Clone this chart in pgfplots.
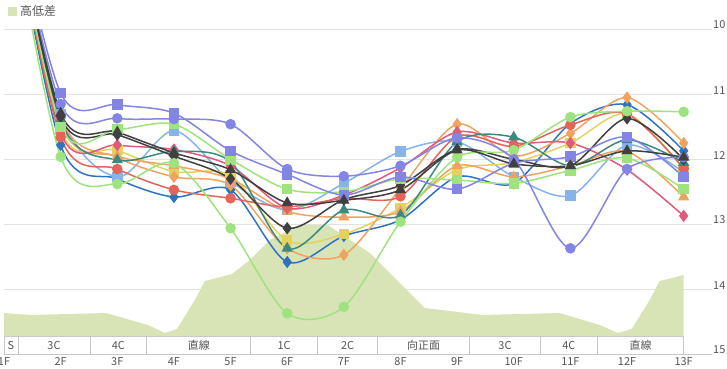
\documentclass[border=0pt]{standalone}
\usepackage{pgfplots}
\pgfplotsset{compat=1.18}
\usepackage{fontspec}
\setmainfont{Noto Sans CJK JP}
\usetikzlibrary{calc}
\definecolor{cPur}{HTML}{8285E3}
\definecolor{cBlu}{HTML}{2E73C2}
\definecolor{cLbl}{HTML}{85B3EA}
\definecolor{cGrn}{HTML}{9EE37D}
\definecolor{cTea}{HTML}{3B8A80}
\definecolor{cRed}{HTML}{E36459}
\definecolor{cPnk}{HTML}{E05A7A}
\definecolor{cOrg}{HTML}{F0A35E}
\definecolor{cYel}{HTML}{E3D25F}
\definecolor{cDrk}{HTML}{404040}
\definecolor{areac}{HTML}{D8E4B6}
\definecolor{gridc}{HTML}{E3E3E3}
\definecolor{textc}{HTML}{555555}
\definecolor{bandc}{HTML}{C8C8C8}
\pgfplotsset{ser/.style n args={3}{color=#1, mark=#2, mark size=#3, mark options={fill=#1, draw=#1, solid}, smooth, line width=1.5bp, forget plot}}
\begin{document}
\begin{tikzpicture}
\begin{axis}[
  scale only axis, width=708bp, height=325bp,
  xmin=1, xmax=13.5, ymin=10, ymax=15, y dir=reverse,
  axis line style={draw=none},
  xtick={1,...,13},
  xticklabels={1F,2F,3F,4F,5F,6F,7F,8F,9F,10F,11F,12F,13F},
  ytick={10,11,12,13,14,15},
  yticklabel pos=right,
  major tick length=0pt,
  ymajorgrids, grid style={color=gridc, line width=1bp},
  tick label style={font=\fontsize{11}{13}\selectfont, text=textc},
  /pgf/number format/assume math mode=true,
  yticklabel style={anchor=south west, inner sep=0pt, xshift=1bp},
  xticklabel style={anchor=north, inner sep=0pt, yshift=-3bp},
  legend style={at={(axis cs:1,10)}, anchor=south west, xshift=4bp, yshift=10bp, draw=none, fill=none, inner sep=0pt, font=\fontsize{12}{14}\selectfont, text=textc, legend cell align=left, nodes={inner xsep=3bp}},
  legend image code/.code={\fill[#1] (0bp,-4.5bp) rectangle (9bp,4.5bp);},
]
\addplot[fill=areac, draw=none] coordinates {
(1.0,15) (1.0,14.365) (1.459,14.395) (2.80,14.365) (3.541,14.549) (3.841,14.672) (4.053,14.611)
(4.370,14.165) (4.547,13.872) (5.023,13.765) (5.341,13.550) (5.694,13.242) (6.223,13.011)
(6.717,13.011) (7.459,13.442) (8.429,14.288) (9.452,14.395) (10.811,14.365) (11.517,14.549)
(11.835,14.672) (12.082,14.611) (12.400,14.165) (12.576,13.872) (13.0,13.780) (13.0,15)};
\addlegendentry{高低差}
% blue diamond
\addplot[ser={cBlu}{diamond*}{5bp}] coordinates {(1,7.5)(2,11.78)(3,12.3)(4,12.58)(5,12.47)(6,13.58)(7,13.18)(8,12.93)(9,12.27)(10,12.37)(11,11.45)(12,11.16)(13,11.87)};
% light blue square
\addplot[ser={cLbl}{square*}{4.5bp}] coordinates {(1,7.5)(2,11.3)(3,12.27)(4,11.56)(5,12.34)(6,12.78)(7,12.37)(8,11.88)(9,11.73)(10,12.27)(11,12.56)(12,11.78)(13,12.2)};
% yellow square
\addplot[ser={cYel}{square*}{4.5bp}] coordinates {(1,7.5)(2,11.55)(3,11.86)(4,12.19)(5,12.25)(6,13.25)(7,13.15)(8,12.75)(9,12.16)(10,12.05)(11,11.75)(12,11.3)(13,12.15)};
% orange triangle
\addplot[ser={cOrg}{triangle*}{5bp}] coordinates {(1,7.5)(2,11.45)(3,11.95)(4,12.1)(5,12.3)(6,12.8)(7,12.89)(8,12.8)(9,12.1)(10,12.27)(11,12.1)(12,11.88)(13,12.58)};
% orange diamond
\addplot[ser={cOrg}{diamond*}{5bp}] coordinates {(1,7.5)(2,11.36)(3,11.97)(4,12.27)(5,12.4)(6,13.37)(7,13.47)(8,12.45)(9,11.46)(10,11.95)(11,11.6)(12,11.05)(13,11.75)};
% pink diamond
\addplot[ser={cPnk}{diamond*}{5bp}] coordinates {(1,7.5)(2,11.6)(3,11.78)(4,11.85)(5,12.1)(6,12.75)(7,12.55)(8,12.13)(9,11.58)(10,11.75)(11,11.75)(12,12.16)(13,12.87)};
% red circle
\addplot[ser={cRed}{*}{4.5bp}] coordinates {(1,7.5)(2,11.66)(3,12.15)(4,12.47)(5,12.6)(6,12.73)(7,12.6)(8,12.57)(9,11.65)(10,11.8)(11,11.47)(12,11.3)(13,12.14)};
% teal triangle
\addplot[ser={cTea}{triangle*}{5bp}] coordinates {(1,7.5)(2,11.4)(3,12.01)(4,11.88)(5,12.04)(6,13.37)(7,12.78)(8,12.86)(9,11.73)(10,11.66)(11,12.1)(12,11.7)(13,12.05)};
% dark diamond
\addplot[ser={cDrk}{diamond*}{5bp}] coordinates {(1,7.5)(2,11.35)(3,11.62)(4,11.95)(5,12.3)(6,13.06)(7,12.62)(8,12.4)(9,11.85)(10,12.0)(11,12.1)(12,11.37)(13,12.0)};
% green square
\addplot[ser={cGrn}{square*}{4.5bp}] coordinates {(1,7.5)(2,11.5)(3,11.54)(4,11.46)(5,12.0)(6,12.46)(7,12.5)(8,12.3)(9,12.32)(10,12.37)(11,12.17)(12,11.98)(13,12.46)};
% green circle
\addplot[ser={cGrn}{*}{4.5bp}] coordinates {(1,7.6)(2,11.96)(3,12.38)(4,12.06)(5,13.06)(6,14.37)(7,14.27)(8,12.96)(9,11.97)(10,11.86)(11,11.35)(12,11.26)(13,11.27)};
% purple circle
\addplot[ser={cPur}{*}{4.5bp}] coordinates {(1,7.5)(2,11.15)(3,11.37)(4,11.38)(5,11.46)(6,12.15)(7,12.26)(8,12.1)(9,11.67)(10,12.0)(11,13.37)(12,12.15)(13,11.97)};
% purple square
\addplot[ser={cPur}{square*}{4.5bp}] coordinates {(1,7.5)(2,10.98)(3,11.16)(4,11.29)(5,11.87)(6,12.23)(7,12.55)(8,12.27)(9,12.46)(10,12.06)(11,11.96)(12,11.66)(13,12.27)};
% dark triangle
\addplot[ser={cDrk}{triangle*}{5bp}] coordinates {(1,7.5)(2,11.29)(3,11.58)(4,11.9)(5,12.16)(6,12.67)(7,12.63)(8,12.47)(9,11.86)(10,12.07)(11,12.1)(12,11.87)(13,11.97)};
% section band
\foreach \a/\b/\t in {1/1.247/S, 1.247/2.517/3C, 2.517/3.522/4C, 3.522/5.356/直線, 5.356/6.538/1C, 6.538/7.596/2C, 7.596/9.219/向正面, 9.219/10.471/3C, 10.471/11.476/4C, 11.476/13/直線}{
  \edef\temp{\noexpand\filldraw[fill=white, draw=bandc, line width=0.8bp] (axis cs:\a,14.718) rectangle (axis cs:\b,15);
  \noexpand\node[font=\noexpand\fontsize{11}{13}\noexpand\selectfont, text=textc, inner sep=0pt] at (axis cs:{(\a+\b)/2},14.859) {\t};}
  \temp
}
\draw[bandc, line width=1bp] (axis cs:1,15) -- (axis cs:13.5,15);
\coordinate (TL) at (axis cs:1,10);
\coordinate (BR) at (axis cs:13.5,15);
\end{axis}
\pgfresetboundingbox
\path[use as bounding box] ($(TL)+(-4bp,29.3bp)$) rectangle ($(BR)+(15bp,-14.7bp)$);
\end{tikzpicture}
\end{document}
